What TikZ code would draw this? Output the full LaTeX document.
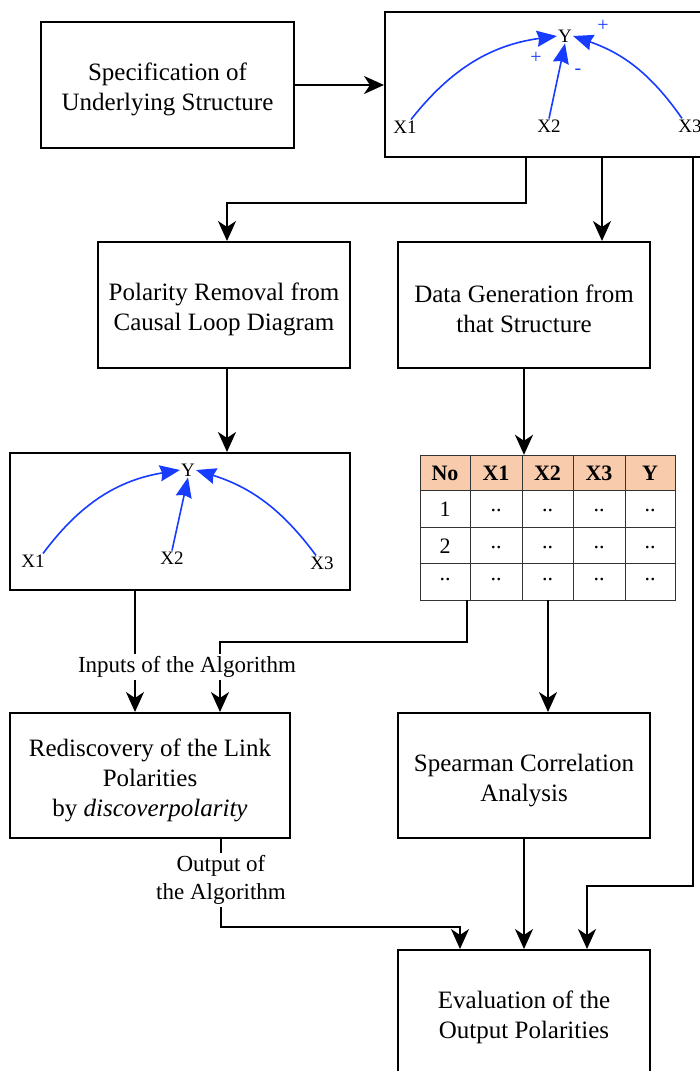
\documentclass[tikz,border=0pt]{standalone}
\usepackage{fontspec}
\setmainfont{Liberation Serif}
\usetikzlibrary{arrows.meta,calc}
\definecolor{cldblue}{RGB}{23,59,255}
\definecolor{hdr}{RGB}{248,203,173}
\begin{document}
\begin{tikzpicture}[x=1pt,y=-1pt,
  box/.style={draw=black,line width=2pt,rectangle,inner sep=0pt},
  btxt/.style={inner sep=0pt,align=center,font=\fontsize{25}{30}\selectfont},
  arr/.style={draw=black,line width=2pt,-{Stealth[length=20pt,width=18pt,inset=6pt]}},
  barr/.style={draw=cldblue,line width=1.6pt,-{Stealth[length=20pt,width=16pt,inset=2pt]}},
  var/.style={inner sep=1pt,font=\fontsize{19}{22}\selectfont},
  sgn/.style={inner sep=0pt,text=cldblue,font=\fontsize{20}{22}\selectfont},
  lab/.style={fill=white,inner sep=2pt,align=center,font=\fontsize{23}{28}\selectfont},
  cell/.style={inner sep=0pt,font=\fontsize{22}{24}\selectfont},
  hcell/.style={inner sep=0pt,font=\fontsize{22}{24}\selectfont\bfseries}
]
\useasboundingbox (0,0) rectangle (700,1071);

% boxes
\node[box,minimum width=253pt,minimum height=126pt] (A) at (167.5,85) {};
\node[box,minimum width=320pt,minimum height=145pt] (B) at (545,84.5) {};
\node[box,minimum width=252pt,minimum height=126pt] (C) at (224,305) {};
\node[box,minimum width=252pt,minimum height=126pt] (D) at (524,305) {};
\node[box,minimum width=340pt,minimum height=137pt] (E) at (180,521.5) {};
\node[box,minimum width=280pt,minimum height=125pt] (F) at (150,775.5) {};
\node[box,minimum width=252pt,minimum height=125pt] (G) at (524,775.5) {};
\node[box,minimum width=252pt,minimum height=134pt] (H) at (524,1017) {};

\node[btxt] (At) at ([yshift=-4pt]A.center) {Specification of\\Underlying Structure};
\node[btxt] (Ct) at ([yshift=-4pt]C.center) {Polarity Removal from\\Causal Loop Diagram};
\node[btxt] (Dt) at ([yshift=-4pt]D.center) {Data Generation from\\that Structure};
\node[btxt] (Ft) at ([yshift=-5pt]F.center) {Rediscovery of the Link\\Polarities\\by \textit{discoverpolarity}};
\node[btxt] (Gt) at ([yshift=-5pt]G.center) {Spearman Correlation\\Analysis};
\node[btxt] (Ht) at (H.center) {Evaluation of the\\Output Polarities};

% table
\node[draw=none,inner sep=0pt,minimum width=255pt,minimum height=145pt] (tbl) at (547.5,527.5) {};
\fill[hdr] (420,455) rectangle (675,490);
\draw[line width=1pt,black!80] (420,455) rectangle (675,600);
\foreach \yy in {490,527,563} \draw[line width=1pt,black!80] (420,\yy) -- (675,\yy);
\foreach \xx in {470,522,573,625} \draw[line width=1pt,black!80] (\xx,455) -- (\xx,600);
\node[hcell] (h1) at (445,473) {No};
\node[hcell] (h2) at (496,473) {X1};
\node[hcell] (h3) at (547.5,473) {X2};
\node[hcell] (h4) at (599,473) {X3};
\node[hcell] (h5) at (650,473) {Y};
\node[cell] (r1) at (445,509) {1};
\node[cell] (r2) at (445,546) {2};
\node[cell] (r3) at (445,580) {..};
\foreach \xx/\nm in {496/a,547.5/b,599/c,650/d}{
  \node[cell] (c1\nm) at (\xx,511) {..};
  \node[cell] (c2\nm) at (\xx,548) {..};
  \node[cell] (c3\nm) at (\xx,580) {..};
}

% CLD top
\node[var] (Y1) at (565,36) {Y};
\node[var] (x11) at (405,127) {X1};
\node[var] (x21) at (549,126) {X2};
\node[var] (x31) at (690,126) {X3};
\draw[barr] ([xshift=6pt]x11.north) to[bend left=22] (Y1.west);
\draw[barr] (x21.north) -- (Y1.south);
\draw[barr] ([xshift=-8pt]x31.north) to[bend right=18] (Y1.east);
\node[sgn] (s1) at (536,58) {+};
\node[sgn] (s2) at (578,72) {-};
\node[sgn] (s3) at (603,26) {+};

% CLD lower
\node[var] (Y2) at (188,470) {Y};
\node[var] (x12) at (33,561) {X1};
\node[var] (x22) at (172,558) {X2};
\node[var] (x32) at (322,563) {X3};
\draw[barr] ([xshift=10pt]x12.north) to[bend left=22] (Y2.west);
\draw[barr] (x22.north) -- (Y2.south);
\draw[barr] ([xshift=-6pt]x32.north) to[bend right=18] (Y2.east);

% connectors
\draw[arr] (A.east) -- (B.west |- A.east);
\draw[arr] ([xshift=-19pt]B.south) -- ++(0,45) -| ([xshift=3pt]C.north);
\draw[arr] ([xshift=57pt]B.south) -- ([xshift=78pt]D.north);
\draw[arr] ([xshift=148pt]B.south) -- ++(0,728) -| ([xshift=63pt]H.north);
\draw[arr] ([xshift=3pt]C.south) -- ([xshift=47pt]E.north);
\draw[arr] (D.south) -- (D.south |- tbl.north);
\draw[arr] ([xshift=-80.5pt]tbl.south) -- ++(0,42) -| ([xshift=70pt]F.north);
\draw[arr] ([xshift=-45pt]E.south) -- ([xshift=-15pt]F.north);
\draw[arr] ([xshift=0.5pt]tbl.south) -- ([xshift=24pt]G.north);
\draw[arr] ([xshift=71pt]F.south) -- ++(0,88) -| ([xshift=-64pt]H.north);
\draw[arr] (G.south) -- (H.north);

% labels
\node[lab] (inl) at (187,667) {Inputs of the Algorithm};
\node[lab] (outl) at (221,880) {Output of\\the Algorithm};
\end{tikzpicture}
\end{document}
